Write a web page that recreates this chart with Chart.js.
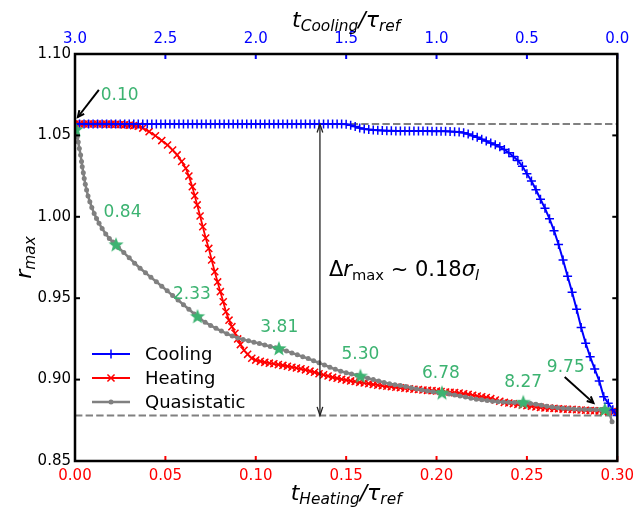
<!DOCTYPE html>
<html>
<head>
<meta charset="utf-8">
<script src="https://cdn.jsdelivr.net/npm/chart.js@4.4.1/dist/chart.umd.min.js"></script>
<style>
  html, body { margin: 0; padding: 0; background: #fff; }
  #wrap { width: 640px; height: 510px; }
</style>
</head>
<body>
<div id="wrap"><canvas id="canvas" width="640" height="510"></canvas></div>
<script>
// cooling run, plotted against the top (reversed) time axis
var coolT = [
  3.000, 2.975, 2.950, 2.925, 2.900, 2.875, 2.850, 2.825, 2.800, 2.775,
  2.750, 2.725, 2.700, 2.675, 2.650, 2.625, 2.600, 2.575, 2.550, 2.525,
  2.500, 2.475, 2.450, 2.425, 2.400, 2.375, 2.350, 2.325, 2.300, 2.275,
  2.250, 2.225, 2.200, 2.175, 2.150, 2.125, 2.100, 2.075, 2.050, 2.025,
  2.000, 1.975, 1.950, 1.925, 1.900, 1.875, 1.850, 1.825, 1.800, 1.775,
  1.750, 1.725, 1.700, 1.675, 1.650, 1.625, 1.600, 1.575, 1.550, 1.525,
  1.500, 1.475, 1.450, 1.425, 1.400, 1.375, 1.350, 1.325, 1.300,
  1.275, 1.250, 1.225, 1.200, 1.175, 1.150, 1.125, 1.100, 1.075, 1.050,
  1.025, 1.000, 0.975, 0.950, 0.925, 0.900,
  0.875, 0.850, 0.825, 0.800, 0.775, 0.750, 0.725, 0.700, 0.675, 0.650,
  0.625, 0.600, 0.575, 0.550, 0.525, 0.500, 0.475, 0.450, 0.425, 0.400,
  0.375, 0.350, 0.325, 0.300, 0.275, 0.250, 0.225, 0.200, 0.175, 0.150,
  0.125, 0.100, 0.075, 0.050, 0.025, 0.000
];
var coolR = [
  1.0570, 1.0570, 1.0570, 1.0570, 1.0570, 1.0570, 1.0570, 1.0570, 1.0570, 1.0570,
  1.0570, 1.0570, 1.0570, 1.0570, 1.0570, 1.0570, 1.0570, 1.0570, 1.0570, 1.0570,
  1.0570, 1.0570, 1.0570, 1.0570, 1.0570, 1.0570, 1.0570, 1.0570, 1.0570, 1.0570,
  1.0570, 1.0570, 1.0570, 1.0570, 1.0570, 1.0570, 1.0570, 1.0570, 1.0570, 1.0570,
  1.0570, 1.0570, 1.0570, 1.0570, 1.0570, 1.0570, 1.0570, 1.0570, 1.0570, 1.0570,
  1.0570, 1.0570, 1.0570, 1.0570, 1.0570, 1.0570, 1.0570, 1.0570, 1.0570, 1.0570,
  1.0568, 1.0562, 1.0554, 1.0546, 1.0540, 1.0536, 1.0533, 1.0531, 1.0530,
  1.0528, 1.0528, 1.0527, 1.0527, 1.0527, 1.0527, 1.0527, 1.0527, 1.0527, 1.0527,
  1.0526, 1.0526, 1.0526, 1.0525, 1.0524, 1.0523,
  1.0521, 1.0516, 1.0508, 1.0498, 1.0488, 1.0477, 1.0465, 1.0453, 1.0443, 1.0430,
  1.0413, 1.0393, 1.0370, 1.0346, 1.0310, 1.0265, 1.0220, 1.0166, 1.0108, 1.0052,
  0.9988, 0.9915, 0.9830, 0.9735, 0.9635, 0.9537, 0.9432, 0.9320, 0.9223, 0.9140,
  0.9065, 0.8992, 0.8895, 0.8855, 0.8815, 0.8780
];

// heating run, bottom axis
var heatT = [
  0.0000, 0.0025, 0.0050, 0.0075, 0.0100, 0.0125, 0.0150, 0.0175, 0.0200, 0.0225,
  0.0250, 0.0275, 0.0300, 0.0325, 0.0350, 0.0375, 0.0410, 0.0445, 0.0480, 0.0512,
  0.0540, 0.0565, 0.0590, 0.0613, 0.0630, 0.0649, 0.0662, 0.0676, 0.0692, 0.0707,
  0.0723, 0.0740, 0.0756, 0.0773, 0.0789, 0.0804, 0.0820, 0.0835, 0.0852, 0.0868,
  0.0885, 0.0900, 0.0915, 0.0935, 0.0955, 0.0978, 0.1000, 0.1025, 0.1050, 0.1075,
  0.1100, 0.1125, 0.1150, 0.1175, 0.1200, 0.1225, 0.1250, 0.1275, 0.1300, 0.1325,
  0.1350, 0.1375, 0.1400, 0.1425, 0.1450, 0.1475, 0.1500, 0.1525, 0.1550, 0.1575,
  0.1600, 0.1625, 0.1650, 0.1675, 0.1700, 0.1725, 0.1750, 0.1775, 0.1800, 0.1825,
  0.1850, 0.1875, 0.1900, 0.1925, 0.1950, 0.1975, 0.2000, 0.2025, 0.2050, 0.2075,
  0.2100, 0.2125, 0.2150, 0.2175, 0.2200, 0.2225, 0.2250, 0.2275, 0.2300, 0.2325,
  0.2350, 0.2375, 0.2400, 0.2425, 0.2450, 0.2475, 0.2500, 0.2525, 0.2550, 0.2575,
  0.2600, 0.2625, 0.2650, 0.2675, 0.2700, 0.2725, 0.2750, 0.2775, 0.2800, 0.2825,
  0.2850, 0.2875, 0.2900, 0.2925, 0.2950, 0.2975, 0.3000
];
var heatR = [
  1.0570, 1.0570, 1.0570, 1.0570, 1.0570, 1.0570, 1.0570, 1.0569, 1.0569, 1.0568,
  1.0567, 1.0565, 1.0563, 1.0560, 1.0556, 1.0545, 1.0523, 1.0498, 1.0468, 1.0441,
  1.0410, 1.0380, 1.0340, 1.0298, 1.0250, 1.0185, 1.0130, 1.0073, 1.0005, 0.9939,
  0.9870, 0.9806, 0.9735, 0.9663, 0.9600, 0.9540, 0.9478, 0.9417, 0.9365, 0.9325,
  0.9285, 0.9250, 0.9215, 0.9180, 0.9155, 0.9131, 0.9120, 0.9112, 0.9106, 0.9101,
  0.9097, 0.9092, 0.9087, 0.9082, 0.9076, 0.9071, 0.9066, 0.9060, 0.9052, 0.9045,
  0.9036, 0.9029, 0.9022, 0.9014, 0.9008, 0.9002, 0.8997, 0.8992, 0.8988, 0.8983,
  0.8979, 0.8975, 0.8970, 0.8966, 0.8962, 0.8959, 0.8956, 0.8953, 0.8950, 0.8947,
  0.8944, 0.8941, 0.8939, 0.8936, 0.8934, 0.8932, 0.8930, 0.8927, 0.8924, 0.8922,
  0.8920, 0.8917, 0.8913, 0.8909, 0.8904, 0.8899, 0.8895, 0.8890, 0.8883, 0.8875,
  0.8867, 0.8860, 0.8856, 0.8852, 0.8848, 0.8844, 0.8840, 0.8836, 0.8832, 0.8829,
  0.8826, 0.8825, 0.8823, 0.8821, 0.8819, 0.8818, 0.8817, 0.8815, 0.8813, 0.8812,
  0.8810, 0.8809, 0.8808, 0.8806, 0.8805, 0.8803, 0.8802
];

// quasistatic curve, bottom axis
var quasiT = [
  0.0000, 0.0005, 0.0012, 0.0018, 0.0024, 0.0031, 0.0036, 0.0040, 0.0046, 0.0051,
  0.0057, 0.0064, 0.0072, 0.0082, 0.0093, 0.0106, 0.0119, 0.0133, 0.0150, 0.0170,
  0.0190, 0.021, 0.024, 0.027, 0.030, 0.033, 0.036, 0.039, 0.042, 0.045,
  0.048, 0.051, 0.054, 0.057, 0.060, 0.063, 0.066, 0.069, 0.072, 0.075,
  0.078, 0.081, 0.084, 0.087, 0.090, 0.093, 0.096, 0.099, 0.102, 0.105,
  0.108, 0.111, 0.114, 0.117, 0.120, 0.123, 0.126, 0.129, 0.132, 0.135,
  0.138, 0.141, 0.144, 0.147, 0.150, 0.153, 0.156, 0.159, 0.162, 0.165,
  0.168, 0.171, 0.174, 0.177, 0.180, 0.183, 0.186, 0.189, 0.192, 0.195,
  0.198, 0.201, 0.204, 0.207, 0.210, 0.213, 0.216, 0.219, 0.222, 0.225,
  0.228, 0.231, 0.234, 0.237, 0.240, 0.243, 0.246, 0.249, 0.252, 0.255,
  0.258, 0.261, 0.264, 0.267, 0.270, 0.273, 0.276, 0.279, 0.282, 0.285,
  0.288, 0.291, 0.294, 0.2955, 0.2971
];
var quasiR = [
  1.0558, 1.0533, 1.0490, 1.0460, 1.0420, 1.0379, 1.0340, 1.0307, 1.0270, 1.0236,
  1.0200, 1.0165, 1.0128, 1.0093, 1.0057, 1.0021, 0.9990, 0.9960, 0.9928, 0.9895,
  0.9866, 0.9845, 0.9812, 0.9780, 0.9748, 0.9715, 0.9684, 0.9656, 0.9628, 0.9601,
  0.9573, 0.9545, 0.9517, 0.9489, 0.9460, 0.9432, 0.9403, 0.9375, 0.9352, 0.9333,
  0.9315, 0.9298, 0.9282, 0.9268, 0.9256, 0.9246, 0.9238, 0.9230, 0.9222, 0.9213,
  0.9204, 0.9195, 0.9185, 0.9175, 0.9164, 0.9152, 0.9141, 0.9129, 0.9116, 0.9103,
  0.9090, 0.9076, 0.9063, 0.9052, 0.9042, 0.9034, 0.9027, 0.9018, 0.9009, 0.9000,
  0.8991, 0.8982, 0.8974, 0.8968, 0.8963, 0.8957, 0.8950, 0.8943, 0.8936, 0.8930,
  0.8925, 0.8920, 0.8915, 0.8911, 0.8906, 0.8900, 0.8893, 0.8886, 0.8880, 0.8876,
  0.8871, 0.8867, 0.8864, 0.8862, 0.8861, 0.8860, 0.8859, 0.8857, 0.8853, 0.8848,
  0.8842, 0.8836, 0.8831, 0.8827, 0.8824, 0.8822, 0.8820, 0.8818, 0.8817, 0.8816,
  0.8815, 0.8814, 0.8812, 0.8800, 0.8741
];

// marked states on the quasistatic curve and their labels
var starT = [0.0005, 0.0227, 0.0678, 0.1128, 0.1579, 0.2030, 0.2480, 0.2931];
var starR = [1.0533, 0.9826, 0.9385, 0.9188, 0.9019, 0.8916, 0.8858, 0.8813];
var starLabels = ['0.10', '0.84', '2.33', '3.81', '5.30', '6.78', '8.27', '9.75'];

// reference levels
var rHigh = 1.057;
var rLow = 0.878;

var xTicks = [0, 0.05, 0.10, 0.15, 0.20, 0.25, 0.30];
var x2Ticks = [0, 0.5, 1.0, 1.5, 2.0, 2.5, 3.0];
var yTicks = [0.85, 0.90, 0.95, 1.00, 1.05, 1.10];

var FONT = '"DejaVu Sans", "Liberation Sans", sans-serif';
var GREEN = '#3cb371';

function pairs(xs, ys) {
  return xs.map(function(x, i) { return {x: x, y: ys[i]}; });
}

function makeStar(r, color) {
  var s = Math.ceil(r * 2 + 2);
  var c = document.createElement('canvas');
  c.width = s; c.height = s;
  var g = c.getContext('2d');
  g.fillStyle = color;
  g.beginPath();
  for (var i = 0; i < 10; i++) {
    var a = -Math.PI / 2 + i * Math.PI / 5;
    var rr = (i % 2 === 0) ? r : r * 0.42;
    g.lineTo(s / 2 + rr * Math.cos(a), s / 2 + rr * Math.sin(a));
  }
  g.closePath();
  g.fill();
  return c;
}

// draws mathtext-like pieces: [text, style] with style containing i (italic) / s (subscript)
function drawMath(ctx, parts, x, y, size, color, align) {
  ctx.save();
  ctx.fillStyle = color;
  ctx.textBaseline = 'alphabetic';
  ctx.textAlign = 'left';
  var segs = parts.map(function(p) {
    var sub = p[1].indexOf('s') >= 0;
    var it = p[1].indexOf('i') >= 0;
    var fs = sub ? size * 0.7 : size;
    var font = (it ? 'italic ' : '') + fs + 'px ' + FONT;
    ctx.font = font;
    return {t: p[0], font: font, dy: sub ? size * 0.2 : 0, w: ctx.measureText(p[0]).width};
  });
  var total = segs.reduce(function(s, g) { return s + g.w; }, 0);
  var cx = align === 'center' ? x - total / 2 : x;
  segs.forEach(function(g) {
    ctx.font = g.font;
    ctx.fillText(g.t, cx, y + g.dy);
    cx += g.w;
  });
  ctx.restore();
}

function head(ctx, x1, y1, x2, y2, size, spread) {
  var a = Math.atan2(y2 - y1, x2 - x1);
  ctx.beginPath();
  ctx.moveTo(x2 - size * Math.cos(a - spread), y2 - size * Math.sin(a - spread));
  ctx.lineTo(x2, y2);
  ctx.lineTo(x2 - size * Math.cos(a + spread), y2 - size * Math.sin(a + spread));
  ctx.stroke();
}

function marker(ctx, style, x, y, r, color) {
  ctx.save();
  ctx.strokeStyle = color;
  ctx.fillStyle = color;
  ctx.lineWidth = 1.5;
  ctx.beginPath();
  if (style === 'cross') {
    ctx.moveTo(x - r, y); ctx.lineTo(x + r, y);
    ctx.moveTo(x, y - r); ctx.lineTo(x, y + r);
    ctx.stroke();
  } else if (style === 'crossRot') {
    var d = r * 0.707;
    ctx.moveTo(x - d, y - d); ctx.lineTo(x + d, y + d);
    ctx.moveTo(x - d, y + d); ctx.lineTo(x + d, y - d);
    ctx.stroke();
  } else {
    ctx.arc(x, y, r, 0, Math.PI * 2);
    ctx.fill();
  }
  ctx.restore();
}

var decorPlugin = {
  id: 'decor',
  afterDraw: function(chart) {
    var ctx = chart.ctx;
    var a = chart.chartArea;
    var sx = chart.scales.x, sx2 = chart.scales.x2, sy = chart.scales.y;

    // inward ticks
    ctx.save();
    ctx.lineWidth = 2;
    ctx.strokeStyle = '#000';
    yTicks.forEach(function(v) {
      var p = sy.getPixelForValue(v);
      ctx.beginPath(); ctx.moveTo(a.left, p); ctx.lineTo(a.left + 5, p); ctx.stroke();
      ctx.beginPath(); ctx.moveTo(a.right, p); ctx.lineTo(a.right - 5, p); ctx.stroke();
    });
    ctx.strokeStyle = '#ff0000';
    xTicks.forEach(function(v) {
      var p = sx.getPixelForValue(v);
      ctx.beginPath(); ctx.moveTo(p, a.bottom); ctx.lineTo(p, a.bottom - 5); ctx.stroke();
    });
    ctx.strokeStyle = '#0000ff';
    x2Ticks.forEach(function(v) {
      var p = sx2.getPixelForValue(v);
      ctx.beginPath(); ctx.moveTo(p, a.top); ctx.lineTo(p, a.top + 5); ctx.stroke();
    });
    ctx.restore();

    // frame
    ctx.save();
    ctx.lineWidth = 2.5;
    ctx.strokeStyle = '#000';
    ctx.strokeRect(a.left, a.top, a.right - a.left, a.bottom - a.top);
    ctx.restore();

    // double arrow for delta r
    var ax = sx.getPixelForValue(0.1355);
    var yTop = sy.getPixelForValue(rHigh), yBot = sy.getPixelForValue(rLow);
    ctx.save();
    ctx.strokeStyle = '#222';
    ctx.lineWidth = 1.3;
    ctx.beginPath(); ctx.moveTo(ax, yTop); ctx.lineTo(ax, yBot); ctx.stroke();
    head(ctx, ax, yBot, ax, yTop, 9, 0.32);
    head(ctx, ax, yTop, ax, yBot, 9, 0.32);
    ctx.restore();

    drawMath(ctx, [['\u0394', ''], ['r', 'i'], ['max', 's'], [' ~ 0.18', ''], ['\u03c3', 'i'], ['l', 'si']],
      sx.getPixelForValue(0.1405), sy.getPixelForValue(0.9636), 21, '#000', 'left');

    // annotation arrows to first and last marked states
    ctx.save();
    ctx.strokeStyle = '#000';
    ctx.lineWidth = 2;
    var notes = [[0.0132, 1.0779, 0.0016, 1.0613], [0.2709, 0.9016, 0.2868, 0.8857]];
    notes.forEach(function(n) {
      var x1 = sx.getPixelForValue(n[0]), y1 = sy.getPixelForValue(n[1]);
      var x2 = sx.getPixelForValue(n[2]), y2 = sy.getPixelForValue(n[3]);
      ctx.beginPath(); ctx.moveTo(x1, y1); ctx.lineTo(x2, y2); ctx.stroke();
      head(ctx, x1, y1, x2, y2, 7, 0.45);
    });
    ctx.restore();

    // green labels of the marked states
    var labelAt = [[0.0247, 1.0742], [0.0263, 1.0026], [0.0647, 0.9520], [0.1130, 0.9317],
                   [0.1579, 0.9151], [0.2024, 0.9040], [0.2479, 0.8979], [0.2715, 0.9071]];
    ctx.save();
    ctx.fillStyle = GREEN;
    ctx.font = '17px ' + FONT;
    ctx.textAlign = 'center';
    ctx.textBaseline = 'middle';
    starLabels.forEach(function(t, i) {
      ctx.fillText(t, sx.getPixelForValue(labelAt[i][0]), sy.getPixelForValue(labelAt[i][1]));
    });
    ctx.restore();

    // legend
    var leg = [['Cooling', '#0000ff', 'cross', 4.5], ['Heating', '#ff0000', 'crossRot', 5], ['Quasistatic', '#808080', 'circle', 2.5]];
    leg.forEach(function(e, i) {
      var ly = 354 + i * 24;
      ctx.save();
      ctx.strokeStyle = e[1];
      ctx.lineWidth = e[2] === 'circle' ? 2.5 : 2;
      ctx.beginPath(); ctx.moveTo(92, ly); ctx.lineTo(130, ly); ctx.stroke();
      ctx.restore();
      marker(ctx, e[2], 111, ly, e[3], e[1]);
      ctx.save();
      ctx.fillStyle = '#000';
      ctx.font = '18px ' + FONT;
      ctx.textBaseline = 'middle';
      ctx.fillText(e[0], 145, ly + 1);
      ctx.restore();
    });

    // axis titles
    var cx = (a.left + a.right) / 2;
    drawMath(ctx, [['t', 'i'], ['Cooling', 'si'], ['/\u03c4', 'i'], ['ref', 'si']], cx, 27, 22, '#000', 'center');
    drawMath(ctx, [['t', 'i'], ['Heating', 'si'], ['/\u03c4', 'i'], ['ref', 'si']], cx, 500, 22, '#000', 'center');
    ctx.save();
    ctx.translate(31, (a.top + a.bottom) / 2);
    ctx.rotate(-Math.PI / 2);
    drawMath(ctx, [['r', 'i'], ['max', 'si']], 0, 0, 22, '#000', 'center');
    ctx.restore();
  }
};

var tickFont = {family: FONT, size: 15};

var config = {
  type: 'scatter',
  data: {
    datasets: [
      {
        label: 'marks', data: pairs(starT, starR), xAxisID: 'x', yAxisID: 'y',
        showLine: false, pointStyle: makeStar(8, GREEN), pointRadius: 8, order: 0
      },
      {
        label: 'Cooling', data: pairs(coolT, coolR), xAxisID: 'x2', yAxisID: 'y',
        showLine: true, borderColor: '#0000ff', borderWidth: 2,
        pointStyle: 'cross', pointRadius: 4.5, pointBorderWidth: 1.5,
        pointBorderColor: '#0000ff', pointBackgroundColor: '#0000ff', order: 1
      },
      {
        label: 'Quasistatic', data: pairs(quasiT, quasiR), xAxisID: 'x', yAxisID: 'y',
        showLine: true, borderColor: '#808080', borderWidth: 2.5,
        pointStyle: 'circle', pointRadius: 2.5, pointBorderWidth: 0,
        pointBackgroundColor: '#808080', order: 2
      },
      {
        label: 'Heating', data: pairs(heatT, heatR), xAxisID: 'x', yAxisID: 'y',
        showLine: true, borderColor: '#ff0000', borderWidth: 1.8,
        pointStyle: 'crossRot', pointRadius: 5, pointBorderWidth: 1.5,
        pointBorderColor: '#ff0000', pointBackgroundColor: '#ff0000', order: 3
      },
      {
        label: 'high', data: [{x: 0, y: rHigh}, {x: 0.30, y: rHigh}], xAxisID: 'x', yAxisID: 'y',
        showLine: true, borderColor: '#808080', borderWidth: 2, borderDash: [7.4, 3.2],
        pointRadius: 0, order: 4
      },
      {
        label: 'low', data: [{x: 0, y: rLow}, {x: 0.30, y: rLow}], xAxisID: 'x', yAxisID: 'y',
        showLine: true, borderColor: '#808080', borderWidth: 2, borderDash: [7.4, 3.2],
        pointRadius: 0, order: 4
      }
    ]
  },
  options: {
    responsive: false,
    animation: false,
    events: [],
    layout: {padding: {left: 0, right: 18, top: 0, bottom: 0}},
    plugins: {legend: {display: false}, tooltip: {enabled: false}},
    scales: {
      x: {
        type: 'linear', position: 'bottom', min: 0, max: 0.30,
        grid: {display: false, drawTicks: false}, border: {display: false},
        ticks: {stepSize: 0.05, color: '#ff0000', font: tickFont, padding: 6, autoSkip: false, maxRotation: 0,
                callback: function(v) { return v.toFixed(2); }},
        afterFit: function(s) { s.height = 49; }
      },
      x2: {
        type: 'linear', position: 'top', min: 0, max: 3, reverse: true,
        grid: {display: false, drawTicks: false}, border: {display: false},
        ticks: {stepSize: 0.5, color: '#0000ff', font: tickFont, padding: 6, autoSkip: false, maxRotation: 0,
                callback: function(v) { return v.toFixed(1); }},
        afterFit: function(s) { s.height = 54; }
      },
      y: {
        type: 'linear', position: 'left', min: 0.85, max: 1.10,
        grid: {display: false, drawTicks: false}, border: {display: false},
        ticks: {stepSize: 0.05, color: '#000', font: tickFont, padding: 4, autoSkip: false,
                callback: function(v) { return v.toFixed(2); }},
        afterFit: function(s) { s.width = 75; }
      }
    }
  },
  plugins: [decorPlugin]
};

window.onload = function() {
  window.myChart = new Chart(document.getElementById('canvas'), config);
};
</script>
</body>
</html>
